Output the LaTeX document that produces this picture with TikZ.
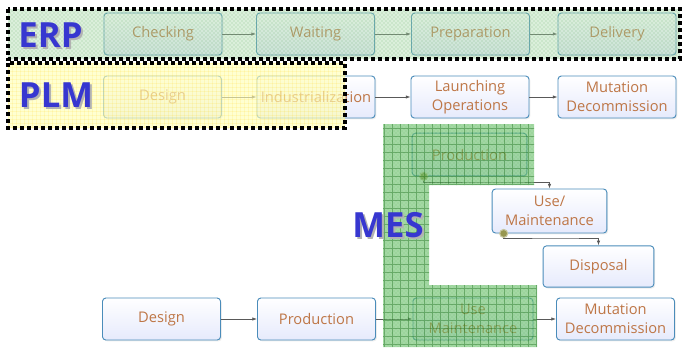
\documentclass[tikz,border=0pt]{standalone}
\usepackage{fontspec}
\setmainfont{Open Sans}
\usetikzlibrary{arrows.meta,shadows,patterns}

\definecolor{boxline}{RGB}{74,140,186}
\definecolor{boxfill}{RGB}{230,234,252}
\definecolor{txtbrown}{RGB}{190,118,70}
\definecolor{lblblue}{RGB}{55,55,208}
\definecolor{erpgreen}{RGB}{165,215,165}
\definecolor{plmyellow}{RGB}{255,255,185}
\definecolor{mesgreen}{RGB}{90,185,90}
\definecolor{bulletol}{RGB}{150,150,80}

\tikzset{
  stage/.style={rectangle, rounded corners=2.5pt, draw=boxline, line width=0.7pt,
    top color=white, bottom color=boxfill, text=txtbrown, align=center,
    font=\fontsize{11}{14.5}\selectfont, inner sep=1pt,
    minimum width=88.5pt, minimum height=31.5pt,
    drop shadow={opacity=0.15, shadow xshift=1pt, shadow yshift=-1pt}},
  conn/.style={draw=black!65, line width=0.5pt, -{Latex[length=3.5pt,width=2.5pt]}},
  bullet/.style={fill=bulletol, draw=bulletol!55!white, line width=0.8pt},
  zonelbl/.style={font=\fontsize{26}{26}\bfseries\selectfont, text=lblblue, inner sep=0pt},
  zoneshade/.style={zonelbl, text=black!30},
  zoneedge/.style={draw=black, line width=3pt, dash pattern=on 3pt off 2.25pt}
}

\begin{document}
\begin{tikzpicture}[x=0.75pt, y=-0.75pt]
    \useasboundingbox (0,0) rectangle (682,347);

    % ERP row
    \node[stage] (check) at (163,34) {Checking};
    \node[stage] (wait) at (315.5,34) {Waiting};
    \node[stage] (prep) at (470.5,34) {Preparation};
    \node[stage] (deliv) at (617,34) {Delivery};

    % PLM row
    \node[stage] (plmdes) at (162.5,97) {Design};
    \node[stage] (indus) at (316,97) {Industrialization};
    \node[stage] (launch) at (470,97) {Launching\\Operations};
    \node[stage] (mutA) at (617,97) {Mutation\\Decommission};

    % MES branch
    \node[stage, minimum width=86pt, minimum height=32pt] (mesprod) at (469.5,154.5) {Production};
    \node[stage, minimum width=86pt, minimum height=33pt] (mesuse) at (549.5,211) {Use/\\Maintenance};
    \node[stage, minimum width=83pt, minimum height=31pt] (disp) at (598.5,266.5) {Disposal};

    % bottom row
    \node[stage] (des) at (161.5,319) {Design};
    \node[stage] (prod) at (316.5,319) {Production};
    \node[stage, minimum width=90pt] (use) at (473,319) {Use\\Maintenance};
    \node[stage] (mutB) at (615.5,319) {Mutation\\Decommission};

    \foreach \a/\b in {check/wait, wait/prep, prep/deliv, plmdes/indus, indus/launch,
                       launch/mutA, des/prod, prod/use, use/mutB}
        \draw[conn] (\a) -- (\b);

    % elbow links of the MES branch
    \coordinate (tapA) at ([xshift=9pt]mesprod.south west);
    \coordinate (bendA) at (500,182);
    \draw[conn] (tapA) |- (bendA) -| (mesuse.north);
    \draw[bullet] (tapA) circle (3pt);

    \coordinate (tapB) at ([xshift=9pt]mesuse.south west);
    \coordinate (bendB) at (560,238);
    \draw[conn] (tapB) |- (bendB) -| (disp.north);
    \draw[bullet] (tapB) circle (3pt);

    % ERP zone
    \fill[erpgreen, opacity=0.4] (8,9) rectangle (680,59);
    \fill[pattern=crosshatch dots, pattern color=green!45!black, opacity=0.3] (8,9) rectangle (680,59);

    % PLM zone
    \fill[plmyellow, opacity=0.65] (8,63) rectangle (345,128);
    \fill[pattern=grid, pattern color=yellow!60!orange, opacity=0.12] (8,63) rectangle (345,128);

    % MES zone (C shape)
    \def\mespath{(383,124) -- (534,124) -- (534,185) -- (429,185) -- (429,285)
                 -- (537,285) -- (537,347) -- (383,347) -- cycle}
    \fill[mesgreen, opacity=0.6] \mespath;
    \begin{scope}
        \clip \mespath;
        \fill[pattern=crosshatch dots, pattern color=white, opacity=0.35] (383,124) rectangle (537,347);
        \draw[green!35!black, opacity=0.35, line width=0.4pt, step=6pt] (383,124) grid (537,347);
    \end{scope}

    % zone borders
    \draw[zoneedge] (8,9) rectangle (680,59);
    \draw[zoneedge] (8,63) rectangle (345,128);

    % zone labels
    \node[zoneshade] at (52.5,37.5) {ERP};
    \node[zonelbl] (erp) at (50.5,35.5) {ERP};
    \node[zoneshade] at (58,97.5) {PLM};
    \node[zonelbl] (plm) at (56,95.5) {PLM};
    \node[zoneshade] at (390,227) {MES};
    \node[zonelbl] (mes) at (388,225) {MES};

\end{tikzpicture}
\end{document}
